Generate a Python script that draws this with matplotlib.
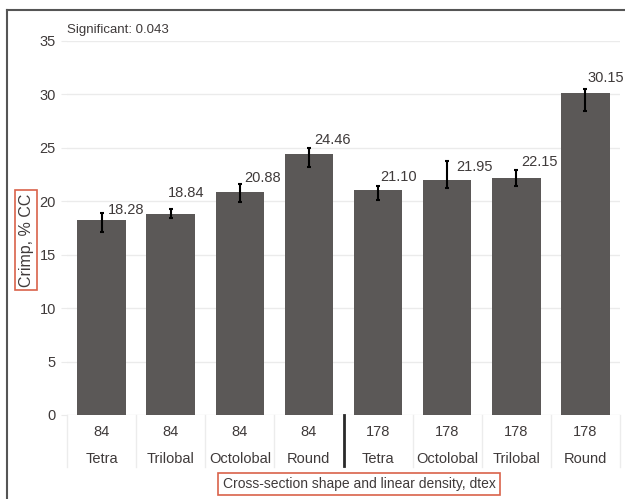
import matplotlib.pyplot as plt
from matplotlib.lines import Line2D

plt.rcParams['font.family'] = ['Liberation Sans', 'DejaVu Sans']

# Crimp per cross-section shape and linear density
density = ["84", "84", "84", "84", "178", "178", "178", "178"]
shapes = ["Tetra", "Trilobal", "Octolobal", "Round",
          "Tetra", "Octolobal", "Trilobal", "Round"]
crimp = [18.28, 18.84, 20.88, 24.46, 21.10, 21.95, 22.15, 30.15]
err_low = [1.15, 0.40, 0.94, 1.28, 0.99, 0.68, 0.72, 1.68]
err_high = [0.63, 0.40, 0.75, 0.53, 0.32, 1.84, 0.78, 0.32]

# value label nudges (pixels)
label_dx = [6, -3, 4, 5, 2, 9, 5, 2]
label_dy = [10, 21, 13.5, 14, 12.7, 13, 16.3, 14.7]

text_color = "#3f3a3a"
bar_color = "#5b5857"
box_color = "#d9624a"

W, H = 625, 499
fig = plt.figure(figsize=(W / 100, H / 100), dpi=100)
ax = fig.add_axes([67 / W, (H - 415) / H, (620 - 67) / W, (415 - 41) / H])

x = list(range(len(crimp)))
ax.bar(x, crimp, width=0.7, color=bar_color, zorder=2)
ax.errorbar(x, crimp, yerr=[err_low, err_high], fmt="none", ecolor="black",
            elinewidth=1.5, capsize=1.5, capthick=1.5, zorder=3)

for i, v in enumerate(crimp):
    ax.annotate(f"{v:.2f}", xy=(i, v), xytext=(label_dx[i], label_dy[i]),
                textcoords="offset pixels", ha="left", va="center",
                fontsize=10.5, color=text_color)

ax.set_xlim(-0.5, len(crimp) - 0.5)
ax.set_ylim(0, 35)
ax.set_yticks(range(0, 36, 5))
ax.grid(axis="y", color="#ebebeb", linewidth=1, zorder=0)
ax.tick_params(axis="y", length=4, color="#ebebeb", labelsize=10.5,
               labelcolor=text_color, pad=4)
ax.set_xticks([])
for s in ax.spines.values():
    s.set_visible(False)

# two-row category labels
xt = ax.get_xaxis_transform()
for i in x:
    ax.annotate(density[i], xy=(i, 0), xycoords=xt, xytext=(0, -17),
                textcoords="offset pixels", ha="center", va="center",
                fontsize=10.5, color=text_color)
    ax.annotate(shapes[i], xy=(i, 0), xycoords=xt, xytext=(0, -44),
                textcoords="offset pixels", ha="center", va="center",
                fontsize=10.5, color=text_color)

# light cell dividers under the axis, dark divider between densities
for k in range(len(crimp) + 1):
    ax.plot([k - 0.5, k - 0.5], [0, -0.14], transform=xt, color="#ececec",
            linewidth=1, clip_on=False)
ax.plot([3.5, 3.5], [0, -0.137], transform=xt, color="#2a2a2a",
        linewidth=2, clip_on=False)

ax.text(0, 1.013, "Significant: 0.043", transform=ax.transAxes,
        fontsize=9.5, color=text_color, ha="left", va="bottom")

fig.text(26 / W, 1 - 240 / H, "Crimp, % CC", rotation=90, ha="center",
         va="center", fontsize=11.5, color=text_color,
         bbox=dict(boxstyle="square,pad=0.2", fc="white", ec=box_color, lw=1.2))
fig.text(359 / W, 1 - 484 / H, "Cross-section shape and linear density, dtex",
         ha="center", va="center", fontsize=10, color=text_color,
         bbox=dict(boxstyle="square,pad=0.3", fc="white", ec=box_color, lw=1.2))

# outer frame
fig.add_artist(Line2D([7 / W, 7 / W], [0, 1 - 10 / H], color="#555555", lw=1.5))
fig.add_artist(Line2D([7 / W, 1], [1 - 10 / H, 1 - 10 / H], color="#555555", lw=1.5))

fig.savefig("out.png", dpi=100)
